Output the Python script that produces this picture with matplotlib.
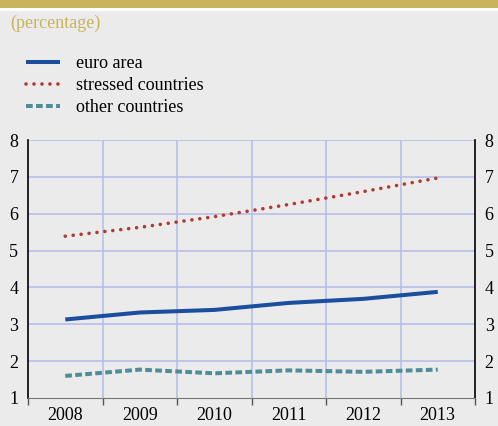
import numpy as np
import matplotlib
matplotlib.use('Agg')
import matplotlib.pyplot as plt
from matplotlib.patches import Rectangle

plt.rcParams['font.family'] = ['Liberation Serif', 'DejaVu Serif']

years = [2008, 2009, 2010, 2011, 2012, 2013]
euro_area = [3.13, 3.32, 3.39, 3.58, 3.69, 3.88]
stressed = [5.39, 5.63, 5.92, 6.25, 6.60, 6.97]
other = [1.60, 1.77, 1.67, 1.75, 1.71, 1.77]

bg = '#ebebeb'
gold = '#c8b45a'
grid_c = '#b3bce6'
fs = 13

fig = plt.figure(figsize=(4.98, 4.26), dpi=100, facecolor=bg)
# bande doree en haut + filet blanc
fig.patches.append(Rectangle((0, 1 - 8/426), 1, 8/426, transform=fig.transFigure,
                             facecolor=gold, edgecolor='none'))
fig.patches.append(Rectangle((0, 1 - 11/426), 1, 3/426, transform=fig.transFigure,
                             facecolor='white', edgecolor='none'))
fig.text(10/498, 1 - 23/426, '(percentage)', color=gold, fontsize=fs,
         va='center', ha='left')

ax = fig.add_axes([28/498, 28/426, 447/498, 258/426])
ax.set_facecolor(bg)

x = np.array(years) - years[0] + 0.5
l1, = ax.plot(x, euro_area, color='#1b4f9e', lw=2.9, solid_capstyle='butt', label='euro area')
l2, = ax.plot(x, stressed, color='#b3392f', lw=2.6, linestyle=(0, (0.01, 2.2)),
              dash_capstyle='round', label='stressed countries')
l3, = ax.plot(x, other, color='#4e8c9c', lw=2.9, linestyle=(0, (1.66, 0.83)),
              dash_capstyle='butt', label='other countries')

ax.set_xlim(0, 6)
ax.set_ylim(1, 8)
ax.set_yticks(range(1, 9))
ax.set_xticks(x)
ax.set_xticklabels([str(y) for y in years])
ax.set_xticks(range(0, 7), minor=True)
ax.tick_params(axis='x', which='major', length=0, pad=6.5, labelsize=fs)
ax.tick_params(axis='x', which='minor', length=5, width=1, color='#555555', direction='out')
ax.tick_params(axis='y', length=0, labelsize=fs, pad=7, labelright=True, right=False)
for lab in ax.get_yticklabels(which='both'):
    pass
ax.yaxis.set_tick_params(which='major', pad=7)

for v in range(2, 9):
    ax.axhline(v, color=grid_c, lw=1.1, zorder=0)
for v in range(1, 6):
    ax.axvline(v, color=grid_c, lw=1.1, zorder=0)

ax.spines['top'].set_visible(False)
ax.spines['left'].set_color('black')
ax.spines['right'].set_color('black')
ax.spines['bottom'].set_color('#777777')
ax.spines['left'].set_linewidth(1.2)
ax.spines['right'].set_linewidth(1.2)

fig.legend(handles=[l1, l2, l3], loc='upper left', bbox_to_anchor=(26/498, 1 - 55/426),
           frameon=False, fontsize=fs, handlelength=1.9, handletextpad=0.85,
           labelspacing=0.28, borderaxespad=0, borderpad=0)

fig.savefig('out.png', dpi=100, facecolor=bg)
